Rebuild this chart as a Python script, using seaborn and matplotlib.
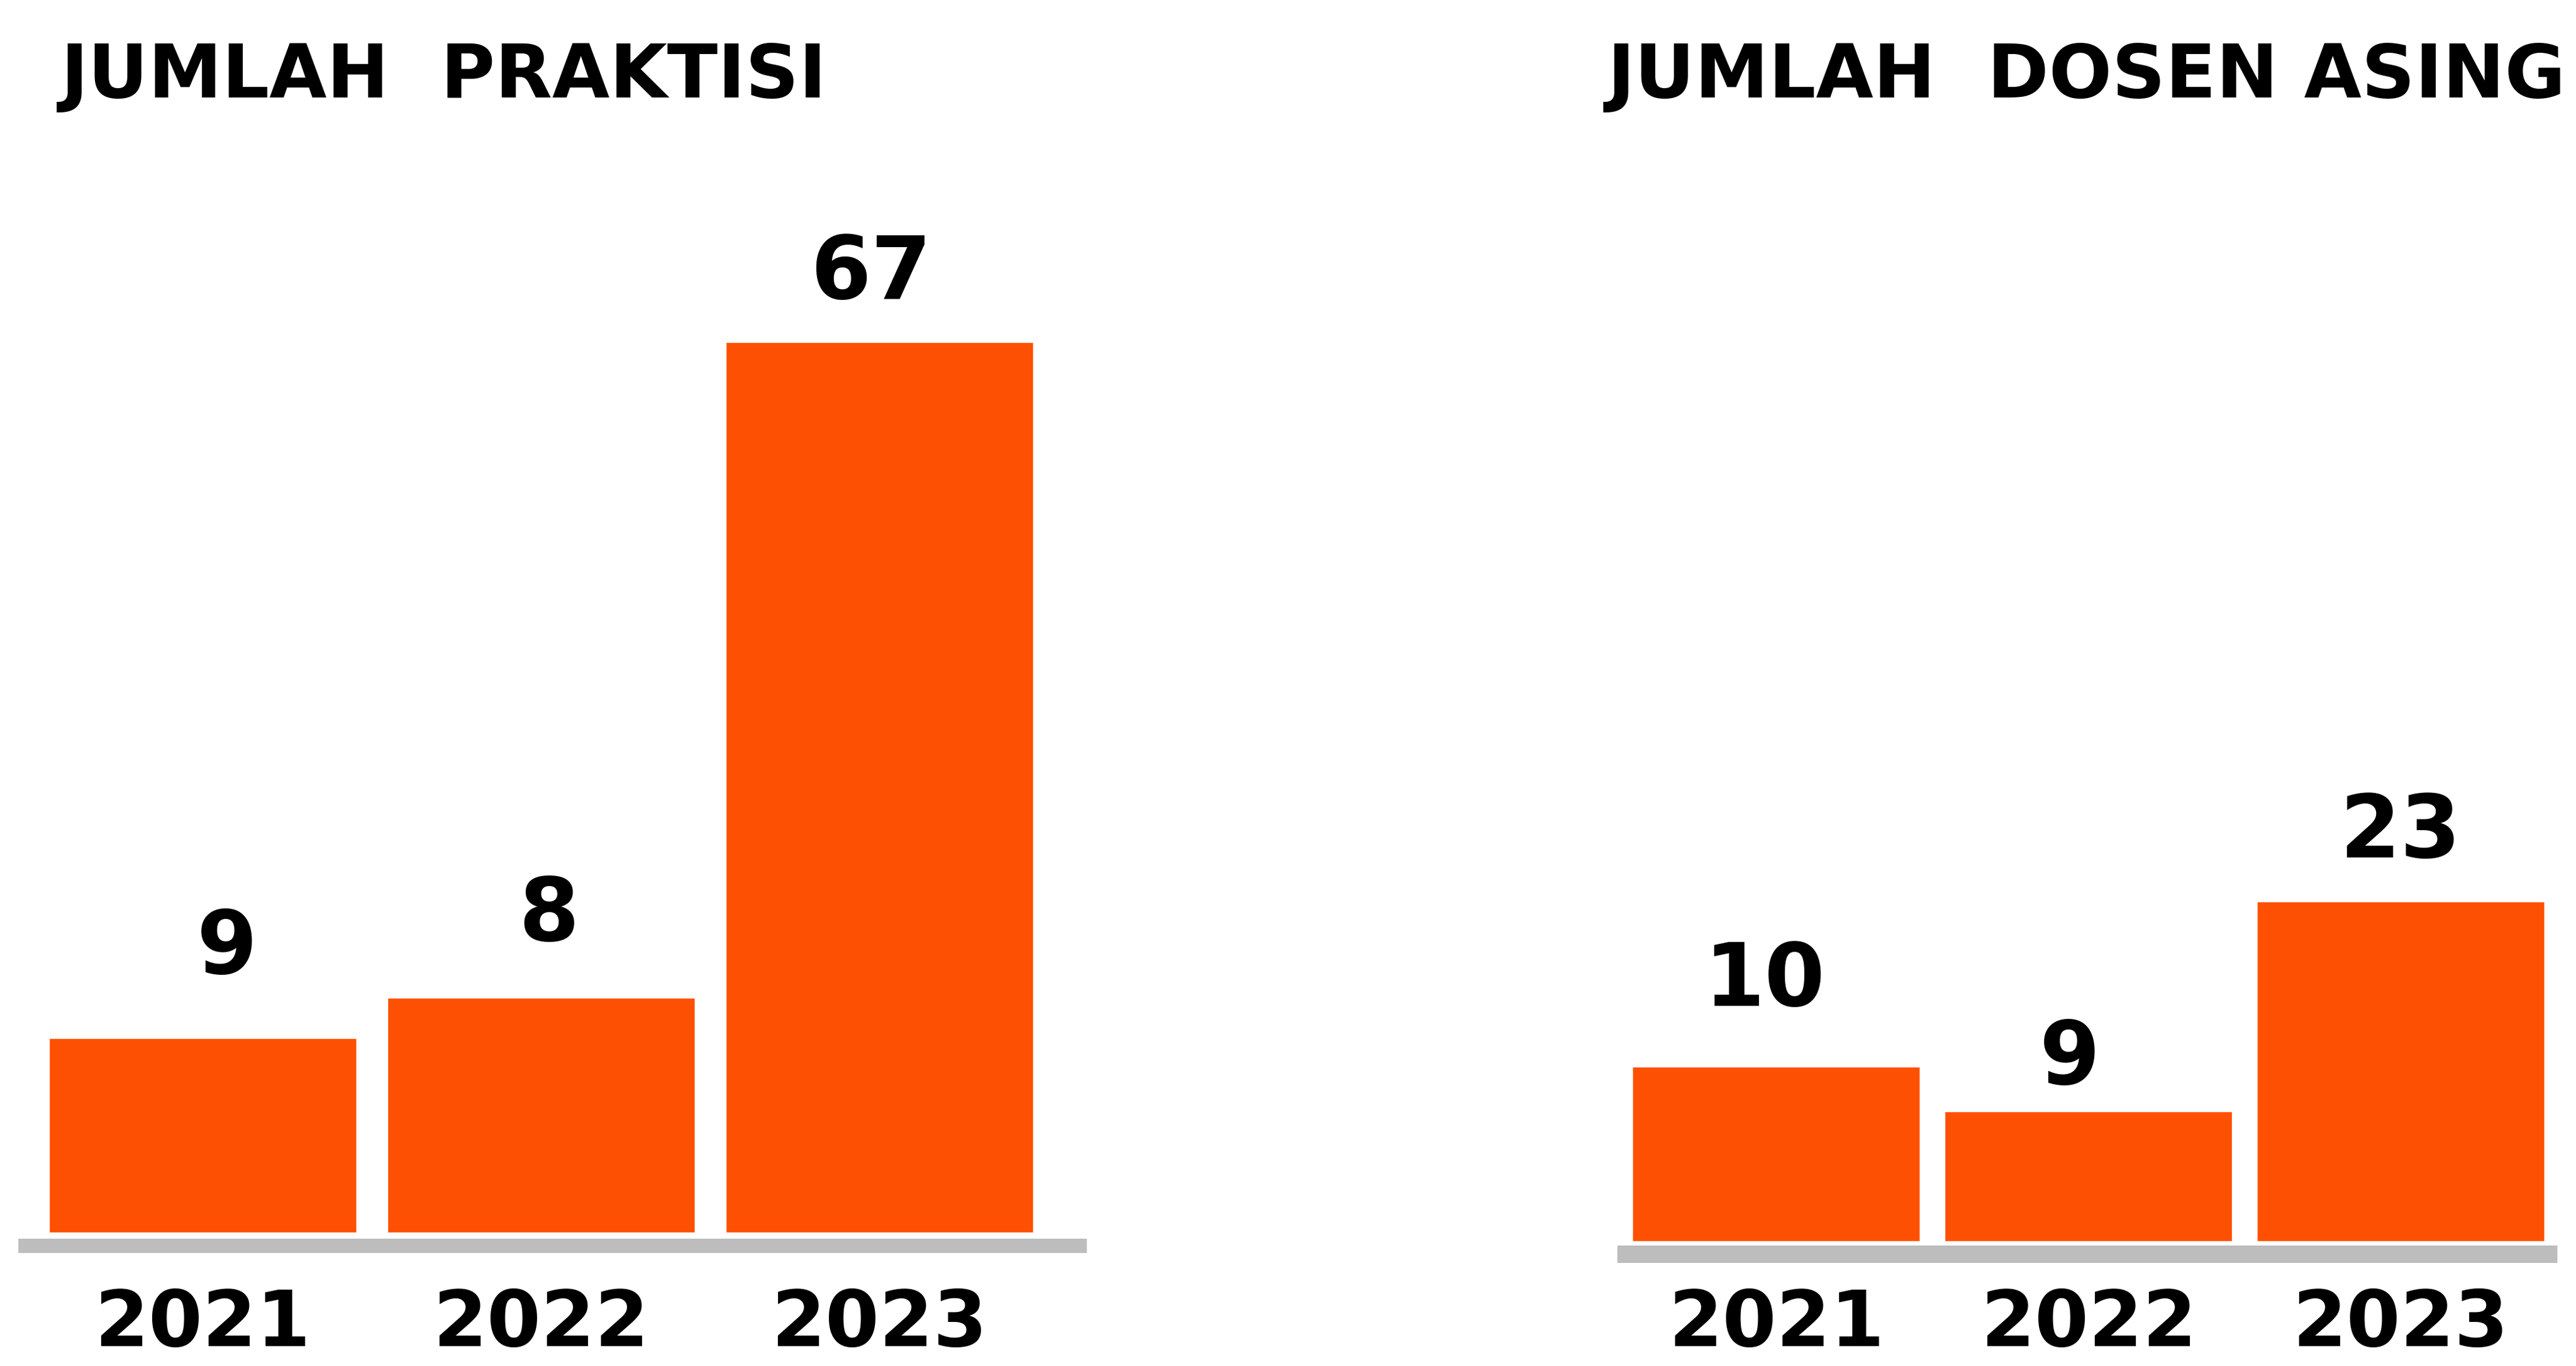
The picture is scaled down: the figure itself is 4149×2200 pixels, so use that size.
import matplotlib
matplotlib.use("Agg")
import matplotlib.pyplot as plt
import seaborn as sns

# data
tahun = ["2021", "2022", "2023"]
jumlah_praktisi = [9, 8, 67]
jumlah_dosen_asing = [10, 9, 23]
# tinggi batang seperti di gambar asli (px), tidak sebanding dengan angkanya
tinggi_praktisi = [313, 378, 1434]
tinggi_dosen_asing = [281, 209, 547]

W, H, DPI = 4149, 2200, 100
PX = 72 / DPI  # 1 px dalam point

WARNA_BATANG = "#FE5002"
WARNA_GARIS = "#BDBDBD"

sns.set_theme(style="white")
plt.rcParams["font.family"] = ["DejaVu Sans"]
plt.rcParams["font.weight"] = "bold"

fig = plt.figure(figsize=(W / DPI, H / DPI), dpi=DPI)
fig.patch.set_facecolor("white")


def gambar_panel(x0, x1, y_garis, y_dasar, tebal_garis, xlim, lebar,
                 judul, judul_x, tinggi, nilai, geser_label):
    # sumbu dalam satuan px supaya tinggi batang = px
    ax = fig.add_axes([x0 / W, (H - y_garis) / H, (x1 - x0) / W, (y_garis - 250) / H])
    sns.barplot(x=tahun, y=tinggi, color=WARNA_BATANG, saturation=1,
                width=lebar, ax=ax)
    ax.set_xlim(*xlim)
    ax.set_ylim(-(y_garis - y_dasar), y_dasar - 250)
    ax.set_facecolor("none")
    ax.set_xlabel("")
    ax.set_ylabel("")
    ax.set_yticks([])
    for s in ["top", "left", "right"]:
        ax.spines[s].set_visible(False)
    ax.spines["bottom"].set_color(WARNA_GARIS)
    ax.spines["bottom"].set_linewidth(tebal_garis * PX)
    ax.spines["bottom"].set_capstyle("butt")

    # label tahun (baseline dekat tepi bawah)
    ax.set_xticks(range(len(tahun)), labels=tahun)
    ax.tick_params(axis="x", length=0, pad=(2168 - y_garis) * PX,
                   labelsize=90, labelcolor="black")
    plt.setp(ax.get_xticklabels(), va="baseline", fontweight="bold")

    for i, (h, v) in enumerate(zip(tinggi, nilai)):
        dx, dy = geser_label[i]
        ax.annotate(str(v), xy=(i, h), xytext=(dx * PX, dy * PX),
                    textcoords="offset points", ha="center", va="baseline",
                    fontsize=101, fontweight="bold", color="black")

    fig.text(judul_x / W, (H - 157) / H, judul, fontsize=86,
             fontweight="bold", color="black", ha="left", va="baseline")
    return ax


gambar_panel(29, 1750, 2005.5, 1985, 23, (-0.545, 2.612), 0.908,
             "JUMLAH  PRAKTISI", 98, tinggi_praktisi, jumlah_praktisi,
             [(39, 104), (13, 92), (-14, 70)])
gambar_panel(2605, 4119, 2020, 1999, 28, (-0.509, 2.502), 0.921,
             "JUMLAH  DOSEN ASING", 2589, tinggi_dosen_asing, jumlah_dosen_asing,
             [(-19, 98), (-30, 44), (0, 71)])

plt.savefig("out.png", dpi=DPI, facecolor="white")
plt.close()
